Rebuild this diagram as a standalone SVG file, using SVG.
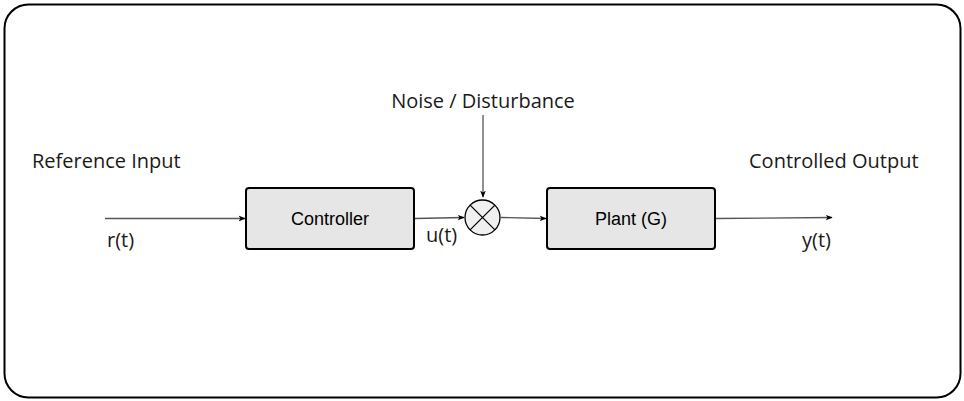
<svg xmlns="http://www.w3.org/2000/svg" width="964" height="401" viewBox="0 0 964 401">
<style>
.lbl{font-family:"Open Sans",sans-serif;font-size:20px;fill:#1a1a1a}
.box{fill:#e6e6e6;stroke:#000;stroke-width:2}
.btxt{font-family:"Liberation Sans",Arial,sans-serif;font-size:18px;fill:#000;text-anchor:middle}
.wire{fill:none;stroke:#555;stroke-width:1.3;marker-end:url(#ah)}
</style>
<defs>
<marker id="ah" viewBox="0 0 10 10" refX="9" refY="5" markerWidth="7" markerHeight="7" markerUnits="userSpaceOnUse" orient="auto">
<path d="M0,1 L10,5 L0,9 L2.5,5 Z" fill="#000"/>
</marker>
</defs>
<rect x="4.5" y="4.5" width="956" height="393" rx="24" fill="#fff" stroke="#000" stroke-width="2"/>
<g id="connectors">
<path class="wire" d="M105,218.5 L245,218.5"/>
<path class="wire" d="M415,218.5 L464,217.5"/>
<path class="wire" d="M483,115 L483,197"/>
<path class="wire" d="M501,217.5 L546,218.5"/>
<path class="wire" d="M716,218.5 L832,217.5"/>
</g>
<g id="reference-input">
<text class="lbl" x="32" y="168">Reference Input</text>
<text class="lbl" x="107" y="247">r(t)</text>
</g>
<g id="controller">
<rect class="box" x="246" y="188" width="168" height="61" rx="3"/>
<text class="btxt" x="330" y="225">Controller</text>
</g>
<g id="u-label">
<text class="lbl" x="426" y="242">u(t)</text>
</g>
<g id="noise">
<text class="lbl" x="483" y="108" text-anchor="middle">Noise / Disturbance</text>
</g>
<g id="summing-junction">
<circle cx="482.5" cy="217.5" r="17.5" fill="#f0f0f0" stroke="#000" stroke-width="1.3"/>
<path d="M470.1,205.1 L494.9,229.9 M494.9,205.1 L470.1,229.9" stroke="#000" stroke-width="1.3"/>
</g>
<g id="plant">
<rect class="box" x="547" y="188" width="168" height="61" rx="3"/>
<text class="btxt" x="631" y="225">Plant (G)</text>
</g>
<g id="output">
<text class="lbl" x="749" y="168">Controlled Output</text>
<text class="lbl" x="802" y="247">y(t)</text>
</g>
</svg>
